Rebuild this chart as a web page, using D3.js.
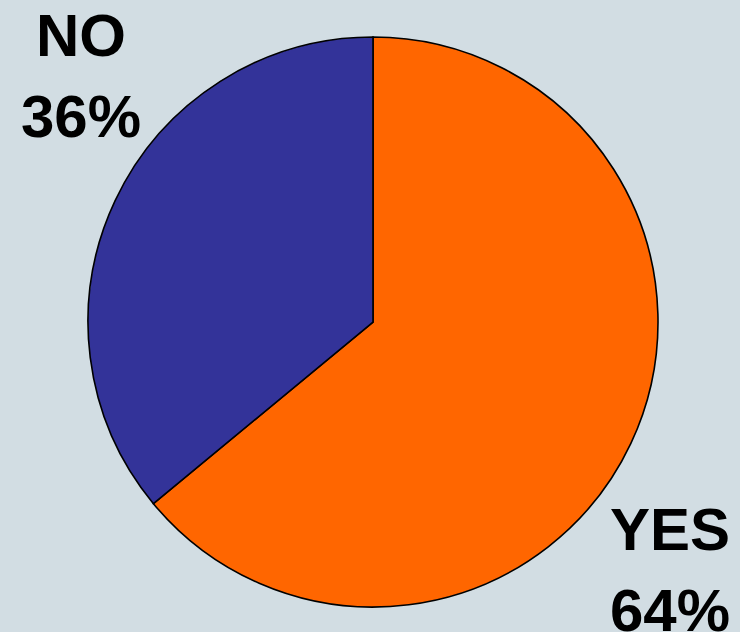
<!DOCTYPE html>
<html>
<head>
<meta charset="utf-8">
<script src="https://cdn.jsdelivr.net/npm/d3@7"></script>
<style>
html,body{margin:0;padding:0;background:#d2dde3;}
svg{display:block;}
</style>
</head>
<body>
<svg id="chart" width="740" height="632"></svg>
<script>
const categories = ["YES", "NO"];
const values = [64, 36];
const labels = ["64%", "36%"];
const colors = ["#ff6600", "#333399"];

const svg = d3.select("#chart");
svg.append("rect").attr("width", 740).attr("height", 632).attr("fill", "#d2dde3");

const cx = 373, cy = 322, r = 285;
const data = categories.map((c, i) => ({cat: c, value: values[i], label: labels[i], color: colors[i]}));
const pie = d3.pie().sort(null).value(d => d.value);
const arc = d3.arc().innerRadius(0).outerRadius(r);

const g = svg.append("g").attr("transform", `translate(${cx},${cy})`);
g.selectAll("path").data(pie(data)).join("path")
  .attr("d", arc)
  .attr("fill", d => d.data.color)
  .attr("stroke", "#000")
  .attr("stroke-width", 1.6)
  .attr("stroke-linejoin", "miter");

const labelPos = {YES: [670, 550], NO: [81, 56]};
data.forEach(d => {
  const [x, y] = labelPos[d.cat];
  const t = svg.append("text")
    .attr("x", x).attr("y", y)
    .attr("text-anchor", "middle")
    .attr("font-family", "'Liberation Sans', Arial, sans-serif")
    .attr("font-weight", "bold")
    .attr("font-size", 60)
    .attr("fill", "#000");
  t.append("tspan").attr("x", x).text(d.cat);
  t.append("tspan").attr("x", x).attr("dy", 81).text(d.label);
});
</script>
</body>
</html>
